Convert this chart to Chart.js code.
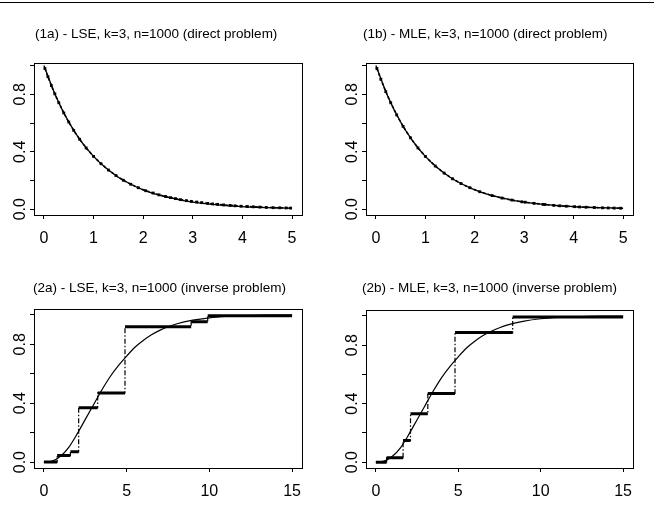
<!DOCTYPE html>
<html><head><meta charset="utf-8">
<script src="https://cdn.jsdelivr.net/npm/chart.js@4/dist/chart.umd.min.js"></script>
<style>
html,body{margin:0;padding:0;background:#fff;}
#page{position:relative;width:654px;height:508px;overflow:hidden;background:#fff;}
#rule{position:absolute;left:0;top:2px;width:654px;height:0;border-top:1.5px solid #000;}
.panel{position:absolute;width:327px;height:254px;}
</style></head><body>
<div id="page"><div id="rule"></div>
<div class="panel" style="left:0;top:0"><canvas id="c1a"></canvas></div>
<div class="panel" style="left:327px;top:0"><canvas id="c1b"></canvas></div>
<div class="panel" style="left:0;top:254px"><canvas id="c2a"></canvas></div>
<div class="panel" style="left:327px;top:254px"><canvas id="c2b"></canvas></div>
</div>
<script>
// true survival curve (direct problem)
const directX = [0,0.25,0.5,0.75,1,1.25,1.5,1.75,2,2.25,2.5,2.75,3,3.25,3.5,3.75,4,4.25,4.5,4.75,5];
const directY = [1,0.779,0.607,0.472,0.368,0.287,0.223,0.174,0.135,0.105,0.082,0.064,0.050,0.039,0.030,0.024,0.018,0.014,0.011,0.009,0.007];
// estimated survival, LSE / MLE
const lseDirX = [0.02,0.08,0.15,0.22,0.3,0.4,0.5,0.6,0.72,0.85,1.0,1.15,1.3,1.45,1.6,1.75,1.9,2.05,2.2,2.32,2.45,2.55,2.65,2.75,2.87,2.97,3.08,3.18,3.3,3.4,3.5,3.62,3.75,3.85,3.97,4.1,4.22,4.35,4.48,4.62,4.75,4.88,4.97];
const lseDirY = [0.980,0.923,0.861,0.803,0.741,0.670,0.607,0.549,0.487,0.427,0.368,0.317,0.273,0.235,0.202,0.174,0.150,0.129,0.113,0.100,0.089,0.081,0.074,0.067,0.060,0.055,0.050,0.046,0.041,0.037,0.034,0.030,0.027,0.024,0.021,0.019,0.017,0.015,0.013,0.011,0.010,0.009,0.008];
const mleDirX = [0.02,0.1,0.2,0.3,0.42,0.55,0.7,0.85,1.0,1.2,1.38,1.55,1.72,1.9,2.1,2.35,2.55,2.75,2.95,3.02,3.2,3.38,3.42,3.6,3.72,3.85,4.02,4.12,4.25,4.42,4.58,4.7,4.82,4.95];
const mleDirY = [0.980,0.905,0.819,0.741,0.657,0.577,0.497,0.427,0.368,0.301,0.252,0.212,0.179,0.150,0.122,0.095,0.078,0.064,0.052,0.049,0.041,0.034,0.033,0.027,0.024,0.021,0.018,0.016,0.014,0.012,0.010,0.009,0.008,0.007];
// true distribution function (inverse problem)
const invX = [0,0.5,1,1.5,2,2.5,3,3.5,4,4.5,5,5.5,6,6.5,7,7.5,8,9,10,11,12,13,14,15];
const invY = [0,0.007,0.04,0.10,0.19,0.29,0.39,0.49,0.58,0.655,0.72,0.78,0.826,0.865,0.895,0.919,0.938,0.964,0.98,0.989,0.994,0.997,0.998,0.999];
// step estimates: breakpoints and levels
const lseStepX = [0,0.8,1.6,2.1,3.25,4.9,8.9,9.9,15];
const lseStepY = [0,0.045,0.07,0.37,0.47,0.92,0.953,0.995];
const mleStepX = [0,0.65,1.65,2.1,3.15,4.8,8.3,15];
const mleStepY = [0,0.03,0.148,0.33,0.47,0.886,0.993];
const yLabelVals = [0,0.4,0.8];
const yTickLabels = ['0.0','0.4','0.8'];
const titles = ['(1a) - LSE, k=3, n=1000 (direct problem)','(1b) - MLE, k=3, n=1000 (direct problem)','(2a) - LSE, k=3, n=1000 (inverse problem)','(2b) - MLE, k=3, n=1000 (inverse problem)'];

const FONT = 'Liberation Sans, Arial, Helvetica, sans-serif';
const pts = (xs, ys) => xs.map((x,i) => ({x, y: ys[i]}));
const stepPts = (xs, ys) => ys.map((y,i) => ({x: xs[i], y})).concat([{x: xs[xs.length-1], y: ys[ys.length-1]}]);
const flatPts = (xs, ys) => { const out=[]; ys.forEach((y,i) => { out.push({x:xs[i],y},{x:xs[i+1],y},{x:xs[i+1],y:null}); }); return out; };

const frame = {
  id:'frame',
  afterDraw(chart, args, o){
    const {ctx, chartArea:a} = chart;
    ctx.save();
    ctx.strokeStyle='#000'; ctx.lineWidth=1;
    ctx.strokeRect(Math.round(a.left)+0.5, Math.round(a.top)+0.5, Math.round(a.right-a.left), Math.round(a.bottom-a.top));
    ctx.fillStyle='#000'; ctx.font='13.5px '+FONT; ctx.textBaseline='middle'; ctx.textAlign='left';
    ctx.fillText(o.text, o.x, o.y);
    ctx.restore();
  }
};

function panel(id, p){
  return new Chart(document.getElementById(id), {
    type:'line',
    data:{ datasets:p.datasets },
    options:{
      responsive:true, maintainAspectRatio:false, animation:false,
      layout:{ padding:{ top:p.top, right:p.right, bottom:0, left:0 } },
      plugins:{ legend:{display:false}, tooltip:{enabled:false}, frame:{ text:p.title, x:p.tx, y:p.ty } },
      elements:{ line:{ borderColor:'#000', backgroundColor:'#000', fill:false }, point:{ radius:0 } },
      scales:{
        x:{ type:'linear', min:p.xmin, max:p.xmax, afterFit: s => { s.height = p.xh; },
          border:{display:true, color:'#000'}, grid:{drawOnChartArea:false, tickLength:4, color:'#000'},
          ticks:{ stepSize:p.xstep, includeBounds:false, autoSkip:false, maxRotation:0, padding:10, color:'#000', font:{family:FONT, size:16} } },
        y:{ type:'linear', min:p.ymin, max:p.ymax, afterFit: s => { s.width = p.left; },
          border:{display:true, color:'#000'}, grid:{drawOnChartArea:false, tickLength:4, color:'#000'},
          ticks:{ stepSize:0.2, includeBounds:false, autoSkip:false, minRotation:90, maxRotation:90, crossAlign:'center', padding:-2, color:'#000', font:{family:FONT, size:16},
            callback: v => { const i = yLabelVals.findIndex(t => Math.abs(t-v) < 1e-6); return i < 0 ? '' : yTickLabels[i]; } } }
      }
    },
    plugins:[frame]
  });
}

function directSets(ex, ey){
  return [
    { data:pts(directX, directY), borderWidth:1.3, cubicInterpolationMode:'monotone' },
    { data:pts(ex, ey), borderWidth:1.6, borderDash:[3,2], pointRadius:2, pointStyle:'rect', pointBackgroundColor:'#000', pointBorderColor:'#000', pointBorderWidth:0 }
  ];
}
function inverseSets(sx, sy){
  return [
    { data:pts(invX, invY), borderWidth:1.2, cubicInterpolationMode:'monotone' },
    { data:stepPts(sx, sy), stepped:true, borderWidth:1.2, borderDash:[5,2,1.5,2] },
    { data:flatPts(sx, sy), borderWidth:3, spanGaps:false }
  ];
}

panel('c1a', { title:titles[0], tx:35, ty:34, top:63, right:25, left:34, xh:39, xmin:-0.2, xmax:5.2, xstep:1, ymin:-0.04, ymax:1.018, datasets:directSets(lseDirX, lseDirY) });
panel('c1b', { title:titles[1], tx:36, ty:34, top:63, right:21, left:39, xh:39, xmin:-0.2, xmax:5.2, xstep:1, ymin:-0.04, ymax:1.018, datasets:directSets(mleDirX, mleDirY) });
panel('c2a', { title:titles[2], tx:33, ty:34, top:55, right:25, left:34, xh:40, xmin:-0.6, xmax:15.6, xstep:5, ymin:-0.04, ymax:1.04, datasets:inverseSets(lseStepX, lseStepY) });
panel('c2b', { title:titles[3], tx:35, ty:34, top:56, right:21, left:39, xh:40, xmin:-0.6, xmax:15.6, xstep:5, ymin:-0.04, ymax:1.04, datasets:inverseSets(mleStepX, mleStepY) });
</script>
</body></html>
